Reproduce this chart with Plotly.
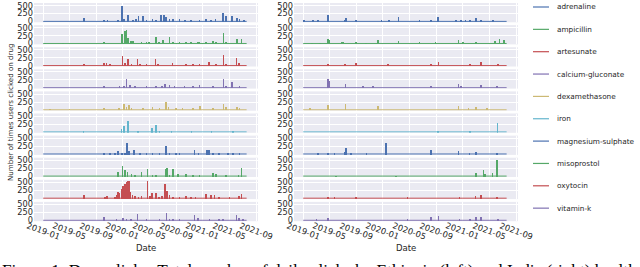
import plotly.graph_objects as go

# ---------------- data ----------------
DRUGS = ["adrenaline", "ampicillin", "artesunate", "calcium-gluconate", "dexamethasone",
         "iron", "magnesium-sulphate", "misoprostol", "oxytocin", "vitamin-k"]
COLORS = ["#4C72B0", "#55A868", "#C44E52", "#8172B2", "#CCB974",
          "#64B5CD", "#4C72B0", "#55A868", "#C44E52", "#8172B2"]
TICK_DATES = ["2019-01-01", "2019-05-01", "2019-09-01", "2020-01-01", "2020-05-01",
              "2020-09-01", "2021-01-01", "2021-05-01", "2021-09-01"]
TICK_LABELS = ["2019-01", "2019-05", "2019-09", "2020-01", "2020-05",
               "2020-09", "2021-01", "2021-05", "2021-09"]
Y_TICKS = [0, 250, 500]
DATA_START = "2019-01-01"
DATA_END = "2021-07-20"
BASELINE_LEVEL = 4
Y_LABEL = "Number of times users clicked on drug"
X_LABEL = "Date"
CAPTION = ("Figure 1: Drug clicks: Total number of daily clicks by Ethiopia (left) "
           "and India (right) health workers.")

# Ethiopia (left column): (date, daily clicks) for visible spikes
et_adrenaline = [("2019-07-07", 110), ("2019-10-07", 40), ("2019-10-22", 30), ("2019-12-10", 20),
                 ("2019-12-27", 480), ("2020-01-05", 90), ("2020-01-25", 200), ("2020-02-17", 50),
                 ("2020-03-01", 80), ("2020-03-12", 190), ("2020-04-01", 190), ("2020-04-18", 60),
                 ("2020-05-16", 80), ("2020-06-01", 60), ("2020-06-24", 200), ("2020-07-06", 210),
                 ("2020-07-16", 130), ("2020-08-01", 80), ("2020-08-18", 90), ("2020-09-16", 70),
                 ("2020-10-12", 40), ("2020-11-08", 50), ("2020-12-16", 30), ("2021-01-16", 70),
                 ("2021-02-08", 60), ("2021-02-28", 80), ("2021-04-02", 260), ("2021-04-17", 170),
                 ("2021-05-15", 190), ("2021-06-06", 100), ("2021-06-18", 80), ("2021-07-08", 30)]
et_ampicillin = [("2019-01-10", 15), ("2019-04-01", 10), ("2019-10-07", 40), ("2019-12-27", 300),
                 ("2020-01-10", 400), ("2020-01-17", 420), ("2020-01-25", 170), ("2020-02-06", 80),
                 ("2020-02-17", 90), ("2020-03-26", 30), ("2020-04-18", 40), ("2020-04-30", 40),
                 ("2020-06-01", 200), ("2020-06-14", 60), ("2020-07-02", 100), ("2020-08-01", 220),
                 ("2020-08-16", 60), ("2020-09-16", 60), ("2020-10-16", 40), ("2020-11-08", 50),
                 ("2020-12-09", 60), ("2020-12-16", 50), ("2021-01-16", 30), ("2021-02-16", 80),
                 ("2021-03-02", 60), ("2021-04-05", 340), ("2021-04-17", 50), ("2021-06-06", 130),
                 ("2021-06-26", 150)]
et_artesunate = [("2019-07-07", 60), ("2019-10-07", 90), ("2019-10-18", 80), ("2019-11-02", 40),
                 ("2019-12-30", 300), ("2020-01-10", 70), ("2020-01-25", 200), ("2020-02-09", 40),
                 ("2020-03-08", 200), ("2020-03-20", 50), ("2020-04-18", 60), ("2020-05-29", 210),
                 ("2020-06-09", 40), ("2020-08-14", 80), ("2020-10-16", 60), ("2020-11-16", 50),
                 ("2020-12-16", 40), ("2021-01-28", 120), ("2021-03-02", 50), ("2021-04-05", 320),
                 ("2021-04-17", 40), ("2021-06-03", 230), ("2021-06-15", 80)]
et_calcium_gluconate = [("2019-10-07", 20), ("2019-12-17", 30), ("2020-01-07", 60), ("2020-01-17", 280),
                        ("2020-02-01", 80), ("2020-02-24", 30), ("2020-04-18", 30), ("2020-06-01", 50),
                        ("2020-06-28", 60), ("2020-07-10", 120), ("2020-08-01", 70), ("2020-08-24", 50),
                        ("2020-10-09", 40), ("2020-11-16", 60), ("2020-12-16", 70), ("2021-02-16", 40),
                        ("2021-04-05", 270), ("2021-04-17", 40), ("2021-05-15", 160), ("2021-06-18", 60)]
et_dexamethasone = [("2019-02-01", 10), ("2019-05-01", 10), ("2019-10-07", 50), ("2019-12-15", 40),
                    ("2020-01-05", 180), ("2020-01-17", 80), ("2020-01-28", 150), ("2020-02-09", 40),
                    ("2020-04-02", 50), ("2020-05-16", 70), ("2020-06-17", 60), ("2020-07-16", 240),
                    ("2020-07-28", 90), ("2020-08-31", 50), ("2020-09-30", 40), ("2020-11-16", 50),
                    ("2020-12-20", 100), ("2021-02-16", 40), ("2021-04-05", 170), ("2021-04-17", 80),
                    ("2021-06-06", 70), ("2021-06-18", 50)]
et_iron = [("2019-07-05", 30), ("2019-12-25", 120), ("2020-01-07", 200), ("2020-01-25", 370),
           ("2020-03-10", 40), ("2020-05-13", 130), ("2020-06-01", 230), ("2020-06-17", 60),
           ("2020-08-10", 40), ("2020-11-10", 30), ("2021-02-10", 40), ("2021-05-20", 60)]
et_magnesium_sulphate = [("2019-10-07", 40), ("2019-11-02", 30), ("2019-11-25", 60), ("2019-12-10", 100),
                         ("2019-12-28", 40), ("2020-01-10", 60), ("2020-01-19", 350), ("2020-01-30", 120),
                         ("2020-02-22", 130), ("2020-03-20", 40), ("2020-04-18", 50), ("2020-05-16", 40),
                         ("2020-06-17", 40), ("2020-07-16", 260), ("2020-08-01", 50), ("2020-08-31", 60),
                         ("2020-09-16", 40), ("2020-11-24", 150), ("2020-12-12", 30), ("2021-01-21", 150),
                         ("2021-01-28", 140), ("2021-02-16", 40), ("2021-03-17", 30), ("2021-04-25", 60),
                         ("2021-05-18", 50), ("2021-06-18", 50)]
et_misoprostol = [("2019-12-10", 130), ("2019-12-30", 320), ("2020-01-10", 200), ("2020-01-22", 130),
                  ("2020-02-09", 80), ("2020-02-24", 60), ("2020-03-26", 140), ("2020-04-22", 250),
                  ("2020-05-16", 40), ("2020-06-01", 60), ("2020-07-13", 250), ("2020-07-21", 280),
                  ("2020-08-01", 60), ("2020-08-16", 250), ("2020-09-08", 80), ("2020-10-16", 80),
                  ("2020-11-16", 60), ("2020-12-16", 40), ("2021-02-16", 120), ("2021-03-02", 70),
                  ("2021-04-17", 40), ("2021-06-12", 60), ("2021-06-26", 280)]
et_oxytocin = [("2019-07-07", 100), ("2019-10-10", 60), ("2019-10-20", 80), ("2019-11-25", 60),
               ("2019-12-03", 120), ("2019-12-10", 200), ("2019-12-17", 180), ("2019-12-25", 300),
               ("2020-01-02", 400), ("2020-01-10", 450), ("2020-01-17", 530), ("2020-01-25", 555),
               ("2020-01-30", 540), ("2020-02-05", 200), ("2020-02-14", 100), ("2020-02-24", 80),
               ("2020-03-12", 50), ("2020-03-26", 70), ("2020-04-22", 555), ("2020-05-03", 80),
               ("2020-05-13", 170), ("2020-06-01", 160), ("2020-06-14", 60), ("2020-06-28", 80),
               ("2020-07-11", 450), ("2020-07-21", 250), ("2020-08-01", 100), ("2020-08-16", 60),
               ("2020-09-16", 50), ("2020-10-16", 70), ("2020-11-08", 40), ("2020-11-28", 50),
               ("2021-01-16", 130), ("2021-02-08", 110), ("2021-02-23", 120), ("2021-03-17", 40),
               ("2021-05-02", 40), ("2021-06-15", 80), ("2021-06-26", 150)]
et_vitamin_k = [("2019-10-07", 100), ("2019-12-03", 40), ("2020-01-02", 80), ("2020-01-17", 60),
                ("2020-02-06", 50), ("2020-03-08", 200), ("2020-04-18", 30), ("2020-06-17", 40),
                ("2020-07-19", 250), ("2020-08-01", 40), ("2020-08-16", 60), ("2020-09-16", 30),
                ("2020-11-24", 180), ("2020-12-09", 80), ("2021-01-31", 40), ("2021-03-17", 30),
                ("2021-04-02", 40), ("2021-06-03", 190), ("2021-06-15", 80), ("2021-07-04", 40)]

# India (right column)
in_adrenaline = [("2019-01-05", 30), ("2019-02-16", 20), ("2019-03-10", 20), ("2019-04-25", 210),
                 ("2019-07-10", 60), ("2019-07-17", 100), ("2019-09-01", 20), ("2019-12-25", 30),
                 ("2020-01-30", 20), ("2020-03-12", 150), ("2020-06-17", 40), ("2020-08-08", 30),
                 ("2020-09-09", 130), ("2020-12-01", 20), ("2020-12-22", 40), ("2021-01-13", 50),
                 ("2021-02-03", 60), ("2021-03-01", 110), ("2021-03-26", 30), ("2021-05-20", 30)]
in_ampicillin = [("2019-02-10", 15), ("2019-03-20", 15), ("2019-04-25", 150), ("2019-04-30", 120),
                 ("2019-06-25", 40), ("2019-07-02", 30), ("2019-09-01", 20), ("2019-10-15", 15),
                 ("2019-12-10", 100), ("2020-03-12", 90), ("2020-06-17", 30), ("2020-08-28", 50),
                 ("2020-12-12", 110), ("2020-12-31", 50), ("2021-03-01", 60), ("2021-05-28", 80),
                 ("2021-06-18", 130), ("2021-07-08", 120)]
in_artesunate = [("2019-04-25", 60), ("2019-07-10", 30), ("2019-09-01", 70), ("2020-01-25", 40),
                 ("2020-08-08", 30), ("2020-09-12", 110), ("2021-02-03", 50), ("2021-03-26", 100),
                 ("2021-06-10", 20)]
in_calcium_gluconate = [("2019-04-25", 280), ("2019-04-30", 200), ("2019-07-14", 100), ("2019-10-01", 20),
                        ("2019-11-16", 20), ("2020-08-08", 30), ("2020-12-12", 110), ("2020-12-22", 40),
                        ("2021-03-26", 90), ("2021-06-05", 50)]
in_dexamethasone = [("2019-02-01", 20), ("2019-04-25", 130), ("2019-07-14", 190), ("2019-12-10", 110),
                    ("2020-12-12", 120), ("2021-01-26", 50), ("2021-03-01", 90), ("2021-04-20", 40)]
in_iron = [("2020-09-09", 60), ("2021-02-03", 30), ("2021-06-09", 300)]
in_magnesium_sulphate = [("2019-03-10", 40), ("2019-04-25", 60), ("2019-05-25", 30), ("2019-07-10", 70),
                         ("2019-07-17", 200), ("2019-08-09", 40), ("2019-10-18", 20), ("2020-01-14", 350),
                         ("2020-08-08", 130), ("2020-12-12", 120), ("2021-01-31", 30), ("2021-03-01", 90),
                         ("2021-06-05", 60)]
in_misoprostol = [("2019-06-01", 10), ("2020-03-01", 10), ("2021-03-01", 120), ("2021-04-05", 200),
                  ("2021-04-13", 80), ("2021-05-16", 100), ("2021-06-05", 520)]
in_oxytocin = [("2019-04-25", 40), ("2019-05-25", 60), ("2019-09-01", 20), ("2020-04-22", 20),
               ("2020-12-16", 20), ("2021-02-28", 80), ("2021-03-26", 110), ("2021-06-05", 50)]
in_vitamin_k = [("2019-03-03", 20), ("2019-04-25", 70), ("2020-04-22", 20), ("2020-08-08", 120),
                ("2020-09-12", 130), ("2020-12-16", 30), ("2021-02-03", 50), ("2021-03-01", 110),
                ("2021-03-26", 110), ("2021-06-10", 20)]

ETHIOPIA = [et_adrenaline, et_ampicillin, et_artesunate, et_calcium_gluconate, et_dexamethasone,
            et_iron, et_magnesium_sulphate, et_misoprostol, et_oxytocin, et_vitamin_k]
INDIA = [in_adrenaline, in_ampicillin, in_artesunate, in_calcium_gluconate, in_dexamethasone,
         in_iron, in_magnesium_sulphate, in_misoprostol, in_oxytocin, in_vitamin_k]

# ---------------- layout geometry (pixels) ----------------
W, H = 640, 267
COL_X = [(34, 258), (294, 518)]
ROW_TOP0, ROW_PITCH, ROW_H = 3.0, 22.1, 19.3
X_RANGE = ["2018-11-20", "2021-09-10"]
Y_RANGE = [-25, 585]
LEG_LINE_X = (533, 549)
LEG_TEXT_X = 555
LEG_Y0, LEG_PITCH = 7.0, 22.35
BG = "#EAEAF2"
TXT = "#262626"
FONT = "DejaVu Sans"
DAY_MS = 86400000

fig = go.Figure()
layout = dict(
    width=W, height=H, margin=dict(l=0, r=0, t=0, b=0, autoexpand=False),
    paper_bgcolor="white", plot_bgcolor=BG,
    font=dict(family=FONT, size=8, color=TXT),
    showlegend=False, bargap=0,
)

annotations = []
shapes = []
for c, country in enumerate([ETHIOPIA, INDIA]):
    x0, x1 = COL_X[c]
    for r in range(10):
        idx = c * 10 + r + 1
        top = ROW_TOP0 + r * ROW_PITCH
        bot = top + ROW_H
        xa = "xaxis" if idx == 1 else f"xaxis{idx}"
        ya = "yaxis" if idx == 1 else f"yaxis{idx}"
        xr = "x" if idx == 1 else f"x{idx}"
        yr = "y" if idx == 1 else f"y{idx}"
        layout[xa] = dict(domain=[x0 / W, x1 / W], anchor=yr, type="date", range=X_RANGE,
                          tickvals=TICK_DATES, showticklabels=False, showgrid=True,
                          gridcolor="white", gridwidth=1, zeroline=False, showline=False,
                          ticks="")
        layout[ya] = dict(domain=[1 - bot / H, 1 - top / H], anchor=xr, range=Y_RANGE,
                          tickvals=Y_TICKS, showgrid=True, gridcolor="white", gridwidth=1,
                          zeroline=False, showline=False, ticks="",
                          tickfont=dict(size=8.2, color=TXT))
        series = country[r]
        dates = [d for d, v in series]
        vals = [v for d, v in series]
        fig.add_trace(go.Scatter(x=[DATA_START, DATA_END], y=[BASELINE_LEVEL, BASELINE_LEVEL],
                                 mode="lines", line=dict(color=COLORS[r], width=1),
                                 name=DRUGS[r], legendgroup=DRUGS[r],
                                 xaxis=xr, yaxis=yr, hoverinfo="skip"))
        fig.add_trace(go.Bar(x=dates, y=vals, width=3 * DAY_MS,
                             marker=dict(color=COLORS[r], line=dict(width=0)),
                             name=DRUGS[r], legendgroup=DRUGS[r],
                             xaxis=xr, yaxis=yr))
    bottom_x = f"x{c * 10 + 10}"
    for d, lab in zip(TICK_DATES, TICK_LABELS):
        annotations.append(dict(x=d, y=1 - 231 / H, xref=bottom_x, yref="paper", text=lab,
                                textangle=20, showarrow=False, xanchor="center", yanchor="middle",
                                font=dict(size=8.3, color=TXT, family=FONT)))
    annotations.append(dict(x=(x0 + x1) / 2 / W, y=1 - 248 / H, xref="paper", yref="paper",
                            text=X_LABEL, showarrow=False, xanchor="center", yanchor="middle",
                            font=dict(size=8.5, color=TXT, family=FONT)))

# figure-level legend (drug name + line sample)
for i, (name, col) in enumerate(zip(DRUGS, COLORS)):
    yy = 1 - (LEG_Y0 + i * LEG_PITCH) / H
    shapes.append(dict(type="line", xref="paper", yref="paper",
                       x0=LEG_LINE_X[0] / W, x1=LEG_LINE_X[1] / W, y0=yy, y1=yy,
                       line=dict(color=col, width=1.2)))
    annotations.append(dict(x=LEG_TEXT_X / W, y=yy, xref="paper", yref="paper", text=name,
                            showarrow=False, xanchor="left", yanchor="middle",
                            font=dict(size=7.3, color=TXT, family=FONT)))

annotations.append(dict(x=11 / W, y=1 - 113 / H, xref="paper", yref="paper", text=Y_LABEL,
                        textangle=-90, showarrow=False, xanchor="center", yanchor="middle",
                        font=dict(size=7.1, color=TXT, family=FONT)))
annotations.append(dict(x=0, y=1 - 258.5 / H, xref="paper", yref="paper", text=CAPTION,
                        showarrow=False, xanchor="left", yanchor="top",
                        font=dict(size=17.2, color="black", family="Liberation Serif")))

layout["annotations"] = annotations
layout["shapes"] = shapes
fig.update_layout(**layout)

fig.write_html("out.html", config={"displayModeBar": False},
               post_script="document.body.style.margin='0';")
